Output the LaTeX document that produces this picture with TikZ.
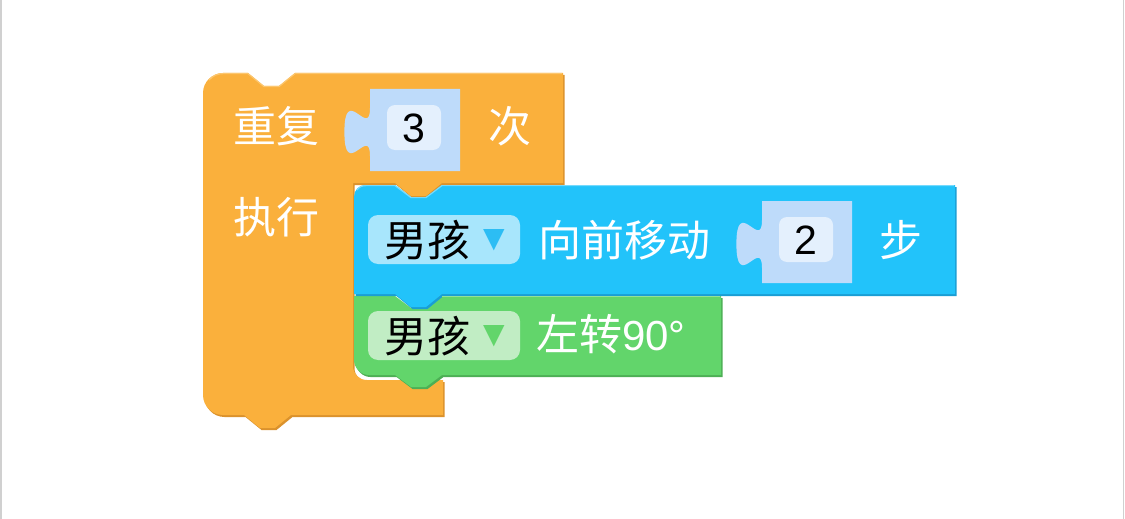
\documentclass[tikz,border=0pt]{standalone}
\usepackage{fontspec}
\newfontfamily\cjk{Noto Sans CJK SC}
\newfontfamily\helv{Liberation Sans}
\newfontfamily\symb{DejaVu Sans}

\definecolor{BlockOrange}{HTML}{FAB03C}
\definecolor{OrangeShade}{HTML}{DB922C}
\definecolor{OrangeLight}{HTML}{FCC66E}
\definecolor{BlockBlue}{HTML}{22C3FA}
\definecolor{BlueShade}{HTML}{1A9ED4}
\definecolor{BlueLight}{HTML}{74DAFD}
\definecolor{BlockGreen}{HTML}{62D56B}
\definecolor{GreenShade}{HTML}{4DAF55}
\definecolor{GreenLight}{HTML}{92E298}
\definecolor{InputSlot}{HTML}{BEDBFA}
\definecolor{ValueBox}{HTML}{E4F0FD}
\definecolor{DropBlue}{HTML}{A8E6FC}
\definecolor{DropGreen}{HTML}{C1EDC4}
\definecolor{TriBlue}{HTML}{2CBDF4}
\definecolor{TriGreen}{HTML}{62D56B}
\definecolor{FrameGray}{HTML}{D0D0D0}

% block outlines, in pixels
\def\repeatpath{(203,93) .. controls (203,82) and (212,73) .. (223,73)
  -- (248,73) -- (264,86) -- (279,86) -- (295,73) -- (563,73) -- (563,183)
  -- (442,183) -- (426,196) -- (411,196) -- (395,183) -- (353,183)
  -- (353,366) .. controls (353,374) and (359,380) .. (367,380)
  -- (443,380) -- (443,415) -- (291,415) -- (275,428) -- (260,428) -- (244,415)
  -- (223,415) .. controls (212,415) and (203,406) .. (203,395) -- cycle}
\def\movepath{(354,197) .. controls (354,190) and (359,185) .. (366,185)
  -- (395,185) -- (411,197) -- (426,197) -- (442,185) -- (955,185) -- (955,294)
  -- (442,294) -- (426,307) -- (411,307) -- (395,294) -- (354,294) -- cycle}
\def\turnpath{(354,296) -- (395,296) -- (411,308) -- (426,308) -- (442,296)
  -- (721,296) -- (721,375) -- (442,375) -- (426,387) -- (411,387) -- (395,375)
  -- (369,375) .. controls (361,375) and (354,368) .. (354,360) -- cycle}
\def\slotpath{(0,0) -- (0,19) .. controls (0,51) and (-25.6,-6.6) .. (-25.6,43)
  .. controls (-25.6,92.6) and (0,35) .. (0,67) -- (0,82) -- (90,82) -- (90,0) -- cycle}

\begin{document}
\begin{tikzpicture}[x=1pt, y=-1pt,
    word/.style={text=white, font=\cjk\fontsize{43}{43}\selectfont, inner sep=0pt},
    kid/.style={text=black, font=\cjk\fontsize{43}{43}\selectfont, inner sep=0pt},
    digit/.style={text=black, font=\helv\fontsize{41}{41}\selectfont, inner sep=0pt},
    menutip/.style={font=\symb\fontsize{28}{28}\selectfont, inner sep=0pt},
    shade/.style={shift={(1.5,2)}}]
    \useasboundingbox (0,0) rectangle (1125,519);
    \draw[FrameGray, line width=1.5pt] (0.8,0) -- (0.8,519);
    \draw[FrameGray, line width=1.5pt] (1123.5,0) -- (1123.5,519);

    % repeat block
    \fill[OrangeShade, shade] \repeatpath;
    \fill[BlockOrange] \repeatpath;
    \draw[OrangeLight, line width=1.2pt] (209,80) .. controls (213,75.5) and (218,73.6) .. (223,73.6) -- (248,73.6) -- (264,86.6) -- (279,86.6) -- (295,73.6) -- (562,73.6);
    % turn block
    \fill[GreenShade, shade] \turnpath;
    \fill[BlockGreen] \turnpath;
    % move block
    \fill[BlueShade, shade] \movepath;
    \fill[BlockBlue] \movepath;
    \draw[BlueLight, line width=1.2pt] (357,190) .. controls (359,187) and (362,185.6) .. (366,185.6) -- (395,185.6) -- (411,197.6) -- (426,197.6) -- (442,185.6) -- (954,185.6);
    \draw[GreenLight, line width=1pt] (442,296.6) -- (720,296.6);

    \foreach \sx/\sy/\num/\sn in {370/89/3/three, 762/201/2/two}
    {
        \begin{scope}[shift={(\sx,\sy)}]
            \fill[InputSlot] \slotpath;
            \fill[ValueBox, rounded corners=8] (17,16) rectangle (71,61);
            \node[digit] (num\sn) at (44,39) {\num};
        \end{scope}
    }

    \foreach \dy/\dfill/\dtri/\dn in {215/DropBlue/TriBlue/a, 311/DropGreen/TriGreen/b}
    {
        \fill[\dfill, rounded corners=10] (368,\dy) rectangle (520,\dy+49);
        \node[kid] (boy\dn) at (427,\dy+25) {男孩};
        \node[menutip, text=\dtri] (menu\dn) at (494,\dy+25) {▼};
    }

    \node[word] (repeat) at (276,126) {重复};
    \node[word] (times) at (510,126) {次};
    \node[word] (exec) at (276,217) {执行};
    \node[word] (forward) at (624,240) {向前移动};
    \node[word] (steps) at (901,240) {步};
    \node[word, anchor=west] (turn) at (536,334) {左转{\helv\fontsize{42}{42}\selectfont 90°}};
\end{tikzpicture}
\end{document}
